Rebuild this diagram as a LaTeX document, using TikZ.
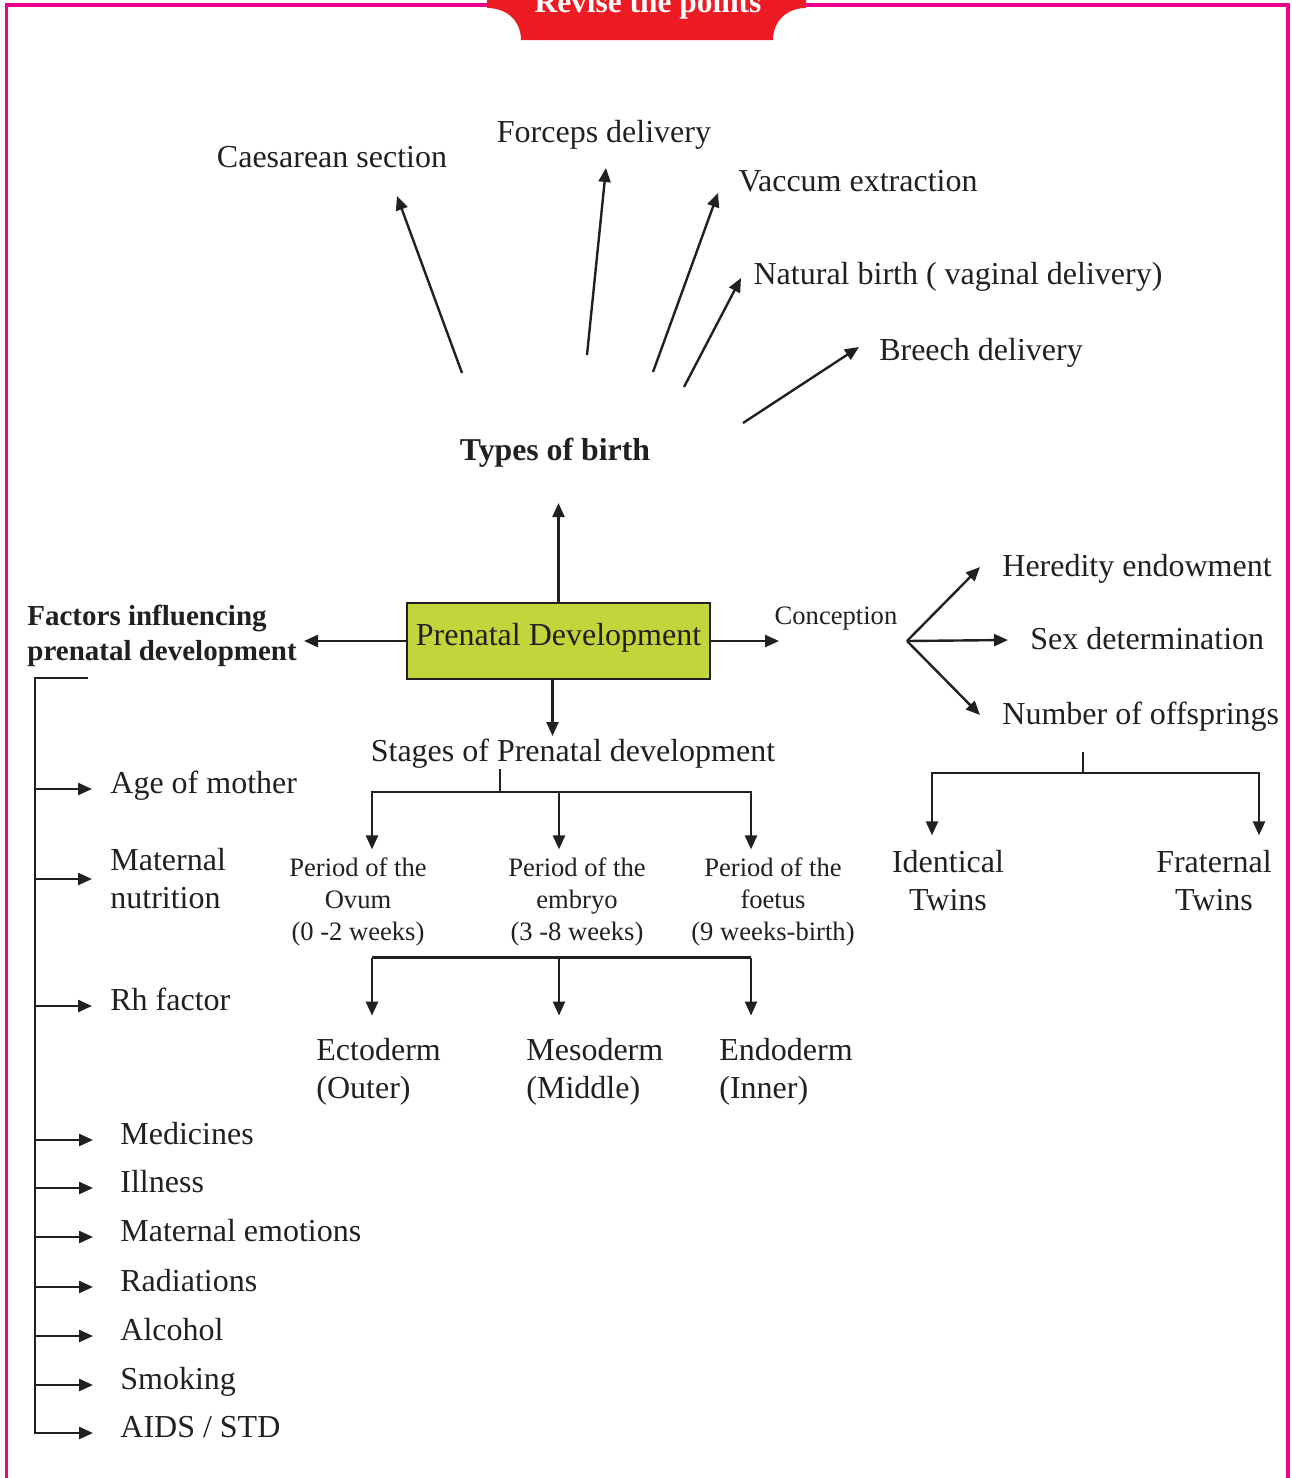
\documentclass[tikz,border=0pt]{standalone}
\usepackage{fontspec}
\setmainfont{Liberation Serif}
\usepackage{xcolor}
\usetikzlibrary{arrows.meta,positioning,calc}
\definecolor{framepink}{HTML}{EC008C}
\definecolor{bannerred}{HTML}{ED1C24}
\definecolor{boxgreen}{HTML}{C2D63C}
\definecolor{inkgray}{HTML}{231F20}
\newcommand{\bigtxt}{\fontsize{16}{19}\selectfont}
\newcommand{\smalltxt}{\fontsize{13.3}{16}\selectfont}
\newcommand{\headtxt}{\fontsize{14.5}{17.5}\selectfont\bfseries}

\begin{document}
\begin{tikzpicture}[
  x=0.5pt, y=-0.5pt,
  every node/.style={font=\bigtxt, text=inkgray, inner sep=0pt},
  head/.style={font=\headtxt, align=left, anchor=west},
  lbl/.style={anchor=west, inner xsep=11pt, text height=10pt, text depth=1pt},
  item/.style={anchor=west, inner xsep=9pt, text height=10pt, text depth=6pt},
  itemlo/.style={item, inner xsep=13.5pt},
  period/.style={font=\smalltxt, align=center},
  layer/.style={anchor=west, align=left},
  twin/.style={align=center},
  pbox/.style={draw=inkgray, line width=1pt, fill=boxgreen,
               minimum width=151.5pt, minimum height=38pt, inner xsep=2pt,
               text height=21pt, text depth=17pt},
  ln/.style={line width=1.2pt, draw=inkgray},
  ar/.style={ln, -{Triangle[length=7pt,width=6pt]}}
]
\useasboundingbox (0,0) rectangle (1291,1478);

% frame and banner
\draw[framepink, line width=1.6pt] (6.5,1478) -- (6.5,5) -- (1288,5) -- (1288,1478);
\fill[bannerred] (487,0) -- (487,8) .. controls (508,8) and (521,22) .. (521,40)
      -- (773,40) .. controls (773,22) and (786,8) .. (806,8) -- (806,0) -- cycle;
\node[font=\fontsize{15.7}{19}\selectfont\bfseries, text=white, anchor=base]
      (banner) at (648,12) {Revise the points};

% centre
\node[pbox] (prenatal) at (558.5,641) {Prenatal Development};

% types of birth
\node[font=\fontsize{15.9}{19}\selectfont\bfseries] (types) at (555,453) {Types of birth};
\node (caes) at (332,157) {Caesarean section};
\node (forc) at (604,135) {Forceps delivery};
\node (vacc) at (858,181) {Vaccum extraction};
\node (nat)  at (958,277) {Natural birth ( vaginal delivery)};
\node (bree) at (981,353) {Breech delivery};

\coordinate (caes-t) at (462,373);  \coordinate (caes-h) at (397,196);
\coordinate (forc-t) at (587,355);  \coordinate (forc-h) at (606,168);
\coordinate (vacc-t) at (653,372);  \coordinate (vacc-h) at (718,193);
\coordinate (nat-t)  at (684,387);  \coordinate (nat-h)  at (741,278);
\coordinate (bree-t) at (743,423);  \coordinate (bree-h) at (859,347);

\draw[ar] (caes-t) -- (caes-h);
\draw[ar] (forc-t) -- (forc-h);
\draw[ar] (vacc-t) -- (vacc-h);
\draw[ar] (nat-t)  -- (nat-h);
\draw[ar] (bree-t) -- (bree-h);
\draw[ar] (prenatal.north) -- ($(prenatal.north |- types.south)+(0,35)$);

% conception
\node[font=\smalltxt] (concept) at (836,619) {Conception};
\coordinate (fork) at (907,641);
\node[lbl] (hered) at (980,567) {Heredity endowment};
\node[lbl] (sexd)  at (1008,640) {Sex determination};
\node[lbl] (numb)  at (980,715) {Number of offsprings};
\node[twin] (ident) at (948,881) {Identical\\Twins};
\node[twin] (frat)  at (1214,881) {Fraternal\\Twins};

\draw[ar] (prenatal.east) -- ++(68,0);
\draw[ar] (fork) -- (hered.west);
\draw[ar] (fork) -- (sexd.west);
\draw[ar] (fork) -- (numb.west);
\coordinate (twinbar) at (1083,773);
\draw[ln] (twinbar) -- ++(0,-21);
\draw[ar] (twinbar) -| ([xshift=-8pt,yshift=7.5pt]ident.north);
\draw[ar] (twinbar) -| ([xshift=22.5pt,yshift=7.5pt]frat.north);

% stages
\node (stages) at (573,754) {Stages of Prenatal development};
\node[period] (ovum)   at (358,902) {Period of the\\Ovum\\(0 -2 weeks)};
\node[period] (embryo) at (577,902) {Period of the\\embryo\\(3 -8 weeks)};
\node[period] (foetus) at (773,902) {Period of the\\foetus\\(9 weeks-birth)};
\node[layer] (ecto) at (316,1072) {Ectoderm\\(Outer)};
\node[layer] (meso) at (526,1072) {Mesoderm\\(Middle)};
\node[layer] (endo) at (719,1072) {Endoderm\\(Inner)};

\draw[ar] ([xshift=-3pt]prenatal.south) -- ++(0,56);
\draw[ln] ([xshift=-36.5pt]stages.south) -- ++(0,23);
\draw[ar] ([xshift=-36.5pt]stages.south) ++(0,23) -| ([xshift=7pt,yshift=4pt]ovum.north);
\draw[ar] ([xshift=-36.5pt]stages.south) ++(0,23) -| ([xshift=-9pt,yshift=4pt]embryo.north);
\draw[ar] ([xshift=-36.5pt]stages.south) ++(0,23) -| ([xshift=-11pt,yshift=4pt]foetus.north);
\draw[ln] ([xshift=7pt,yshift=-5.5pt]ovum.south) -- ([xshift=-11pt,yshift=-5.5pt]foetus.south);
\draw[ar] ([xshift=7pt,yshift=-5.5pt]ovum.south) -- ++(0,58);
\draw[ar] ([xshift=-9pt,yshift=-5.5pt]embryo.south) -- ++(0,58);
\draw[ar] ([xshift=-11pt,yshift=-5.5pt]foetus.south) -- ++(0,58);

% factors
\node[head] (factors) at (27,636) {Factors influencing\\prenatal development};
\coordinate (trunk) at (35,678);
\node[item] (age) at (92,789) {Age of mother};
\node[layer, inner xsep=9pt] (nutr) at (92,879) {Maternal\\nutrition};
\node[item] (rh) at (92,1006) {Rh factor};
\node[itemlo] (med)  at (93,1140) {Medicines};
\node[itemlo] (ill)  at (93,1188) {Illness};
\node[itemlo] (emo)  at (93,1237) {Maternal emotions};
\node[itemlo] (rad)  at (93,1287) {Radiations};
\node[itemlo] (alc)  at (93,1336) {Alcohol};
\node[itemlo] (smk)  at (93,1385) {Smoking};
\node[itemlo] (aids) at (93,1433) {AIDS / STD};

\draw[ar] (prenatal.west) -- ++(-102,0);
\draw[ar] (trunk) ++(53,0) -- (trunk) -- (trunk |- aids.west) -- (aids.west);
\draw[ar] (trunk |- age.west) -- (age.west);
\draw[ar] (trunk |- nutr.west) -- (nutr.west);
\draw[ar] (trunk |- rh.west) -- (rh.west);
\draw[ar] (trunk |- med.west) -- (med.west);
\draw[ar] (trunk |- ill.west) -- (ill.west);
\draw[ar] (trunk |- emo.west) -- (emo.west);
\draw[ar] (trunk |- rad.west) -- (rad.west);
\draw[ar] (trunk |- alc.west) -- (alc.west);
\draw[ar] (trunk |- smk.west) -- (smk.west);
\end{tikzpicture}
\end{document}
